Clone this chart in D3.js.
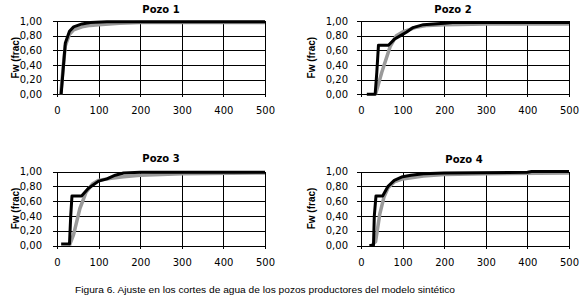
<!DOCTYPE html>
<html>
<head>
<meta charset="utf-8">
<script src="https://d3js.org/d3.v7.min.js"></script>
<style>
  body { margin: 0; background: #fff; }
  .tick text { font-family: "DejaVu Sans", Verdana, sans-serif; font-size: 10px; fill: #000; }
  .grid line { stroke: #000; stroke-width: 1; shape-rendering: crispEdges; }
  .axis path { display: none; }
  .axis line { stroke: #000; shape-rendering: crispEdges; }
</style>
</head>
<body>
<svg id="chart" width="580" height="305"></svg>
<script>
  // tick values
  const xTicks = [0, 100, 200, 300, 400, 500];
  const yTicks = [0, 0.2, 0.4, 0.6, 0.8, 1.0];
  const titles = ["Pozo 1", "Pozo 2", "Pozo 3", "Pozo 4"];

  // gray series (modelo) per well: [dia, fw]
  const gris1 = [[9, 0], [15, 0.38], [20, 0.66], [30, 0.82], [40, 0.88], [60, 0.92], [80, 0.94], [100, 0.95], [150, 0.97], [200, 0.98], [500, 0.98]];
  const gris2 = [[35, 0], [50, 0.3], [70, 0.65], [85, 0.8], [100, 0.85], [130, 0.91], [160, 0.94], [200, 0.95], [300, 0.96], [500, 0.96]];
  const gris3 = [[30, 0], [40, 0.15], [55, 0.5], [70, 0.72], [85, 0.83], [100, 0.88], [130, 0.91], [160, 0.93], [200, 0.95], [300, 0.97], [500, 0.98]];
  const gris4 = [[25, 0], [35, 0.05], [45, 0.42], [55, 0.65], [65, 0.78], [80, 0.86], [100, 0.9], [150, 0.94], [200, 0.96], [300, 0.97], [500, 0.98]];

  // black series (historia) per well
  const negro1 = [[10, 0], [15, 0.35], [20, 0.7], [30, 0.86], [40, 0.92], [60, 0.96], [80, 0.98], [120, 0.99], [200, 0.99], [500, 0.99]];
  const negro2 = [[14, 0], [34, 0], [38, 0.3], [42, 0.67], [66, 0.67], [80, 0.75], [95, 0.8], [110, 0.85], [125, 0.91], [150, 0.95], [200, 0.97], [220, 0.98], [500, 0.98]];
  const negro3 = [[10, 0.02], [30, 0.02], [33, 0.4], [36, 0.67], [59, 0.67], [75, 0.77], [100, 0.87], [120, 0.9], [140, 0.95], [160, 0.98], [200, 0.99], [500, 0.99]];
  const negro4 = [[20, 0], [30, 0], [32, 0.4], [36, 0.67], [52, 0.67], [65, 0.8], [80, 0.88], [100, 0.93], [120, 0.95], [150, 0.97], [200, 0.98], [400, 0.99], [410, 1.0], [500, 1.0]];

  const grisData = [gris1, gris2, gris3, gris4];
  const negroData = [negro1, negro2, negro3, negro4];

  // panel layout (plot area) and label positions
  const panels = [
    { x0: 57, x1: 265, y0: 21, y1: 94.3, titleX: 161, titleY: 12.5, labelX: 15 },
    { x0: 361, x1: 569, y0: 21, y1: 94.3, titleX: 453, titleY: 12.5, labelX: 311 },
    { x0: 57, x1: 265, y0: 171.5, y1: 245.5, titleX: 161, titleY: 161.5, labelX: 15 },
    { x0: 361, x1: 569, y0: 171.5, y1: 245.5, titleX: 464, titleY: 162.5, labelX: 311 }
  ];

  const svg = d3.select("svg#chart");
  const fmt = d => d3.format(".2f")(d).replace(".", ",");

  panels.forEach((p, i) => {
    const xScale = d3.scaleLinear().domain([0, 500]).range([p.x0, p.x1]);
    const yScale = d3.scaleLinear().domain([0, 1]).range([p.y1, p.y0]);
    const g = svg.append("g");

    // horizontal gridlines + y axis labels
    g.append("g")
      .attr("class", "grid axis")
      .attr("transform", `translate(${p.x0},0)`)
      .call(d3.axisLeft(yScale).tickValues(yTicks).tickSize(-(p.x1 - p.x0)).tickFormat(""));
    g.append("g")
      .attr("class", "axis")
      .attr("transform", `translate(${p.x0},0)`)
      .call(d3.axisLeft(yScale).tickValues(yTicks).tickSize(4).tickPadding(i % 2 ? 9 : 11).tickFormat(fmt));

    // vertical gridlines + x axis labels
    g.append("g")
      .attr("class", "grid axis")
      .attr("transform", `translate(0,${p.y1})`)
      .call(d3.axisBottom(xScale).tickValues(xTicks).tickSize(-(p.y1 - p.y0)).tickFormat(""));
    g.append("g")
      .attr("class", "axis")
      .attr("transform", `translate(0,${p.y1})`)
      .call(d3.axisBottom(xScale).tickValues(xTicks).tickSize(3).tickPadding(10));

    const line = d3.line().x(d => xScale(d[0])).y(d => yScale(d[1]));

    g.append("path")
      .datum(grisData[i])
      .attr("d", line)
      .attr("fill", "none")
      .attr("stroke", "#9a9a9a")
      .attr("stroke-width", 3.5)
      .attr("stroke-linejoin", "round");

    g.append("path")
      .datum(negroData[i])
      .attr("d", line)
      .attr("fill", "none")
      .attr("stroke", "#000")
      .attr("stroke-width", 3)
      .attr("stroke-linejoin", "round");

    g.append("text")
      .attr("x", p.titleX)
      .attr("y", p.titleY)
      .attr("text-anchor", "middle")
      .style("font-family", "'DejaVu Sans', Verdana, sans-serif")
      .style("font-weight", "bold")
      .style("font-size", "10px")
      .text(titles[i]);

    g.append("text")
      .attr("transform", `translate(${p.labelX + 4},${(p.y0 + p.y1) / 2}) rotate(-90)`)
      .attr("text-anchor", "middle")
      .style("font-family", "'Liberation Sans', Arial, sans-serif")
      .style("font-weight", "bold")
      .style("font-size", "10px")
      .text("Fw  (frac)");
  });

  svg.append("text")
    .attr("x", 265)
    .attr("y", 293)
    .attr("text-anchor", "middle")
    .attr("textLength", 380)
    .attr("lengthAdjust", "spacingAndGlyphs")
    .style("font-family", "'Liberation Sans', Arial, sans-serif")
    .style("font-size", "9.5px")
    .text("Figura 6. Ajuste en los cortes de agua de los pozos productores del modelo sintético");
</script>
</body>
</html>
